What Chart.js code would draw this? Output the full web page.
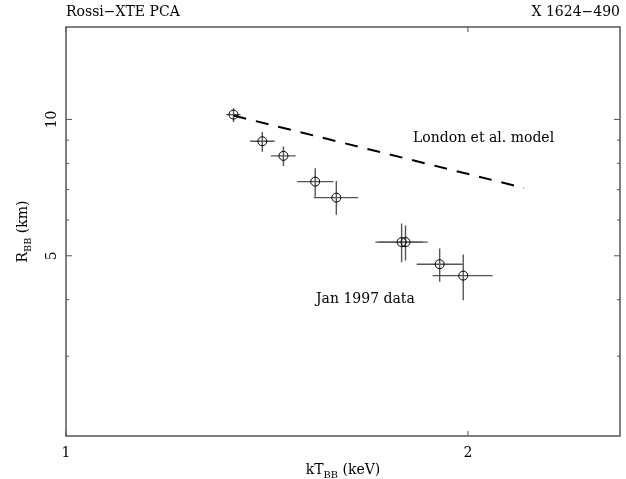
<!DOCTYPE html>
<html>
<head>
<meta charset="utf-8">
<script src="https://cdn.jsdelivr.net/npm/chart.js@4"></script>
<style>
  body { margin: 0; background: #fff; }
</style>
</head>
<body>
<canvas id="chart" width="626" height="479"></canvas>
<script>
/* data (log-log) */
let kT   = [1.335, 1.403, 1.455, 1.537, 1.594, 1.784, 1.796, 1.905, 1.984]
let kTLo = [1.318, 1.374, 1.424, 1.490, 1.533, 1.705, 1.715, 1.831, 1.882]
let kTHi = [1.351, 1.433, 1.486, 1.586, 1.655, 1.850, 1.866, 1.982, 2.087]
let radius   = [10.25, 8.95, 8.31, 7.29, 6.72, 5.36, 5.36, 4.79, 4.52]
let radiusLo = [9.87, 8.48, 7.89, 6.75, 6.16, 4.84, 4.88, 4.38, 3.99]
let radiusHi = [10.59, 9.38, 8.71, 7.80, 7.31, 5.89, 5.83, 5.19, 5.03]

// London et al. model line
let modelKT = [1.335, 2.203]
let modelR = [10.2, 7.06]

// axis ticks
let xMajor = [1, 2]
let yMajor = [5, 10]
let yMinor = [3, 4, 6, 7, 8, 9]

let serif = '"DejaVu Serif", "Liberation Serif", serif'

// draws text with a subscript part: [main, sub, rest]
function subText(ctx, parts, size) {
    let w1 = ctx.measureText(parts[0]).width
    ctx.font = (size * 0.7) + 'px ' + serif
    let w2 = ctx.measureText(parts[1]).width
    ctx.font = size + 'px ' + serif
    let w3 = ctx.measureText(parts[2]).width
    let x = -(w1 + w2 + w3) / 2
    ctx.textAlign = 'left'
    ctx.fillText(parts[0], x, 0)
    ctx.font = (size * 0.7) + 'px ' + serif
    ctx.fillText(parts[1], x + w1, size * 0.3)
    ctx.font = size + 'px ' + serif
    ctx.fillText(parts[2], x + w1 + w2, 0)
}

let decorations = {
    id: 'decorations',
    beforeDatasetsDraw(chart) {
        let ctx = chart.ctx
        let xs = chart.scales.x
        let ys = chart.scales.y
        ctx.save()
        ctx.strokeStyle = '#555'
        ctx.lineWidth = 1.4
        for (let i = 0; i < kT.length; i++) {
            let px = xs.getPixelForValue(kT[i])
            let py = ys.getPixelForValue(radius[i])
            ctx.beginPath()
            ctx.moveTo(xs.getPixelForValue(kTLo[i]), py)
            ctx.lineTo(xs.getPixelForValue(kTHi[i]), py)
            ctx.moveTo(px, ys.getPixelForValue(radiusLo[i]))
            ctx.lineTo(px, ys.getPixelForValue(radiusHi[i]))
            ctx.stroke()
        }
        ctx.restore()
    },
    afterDraw(chart) {
        let ctx = chart.ctx
        let a = chart.chartArea
        let xs = chart.scales.x
        let ys = chart.scales.y
        ctx.save()

        // frame
        ctx.strokeStyle = '#555'
        ctx.lineWidth = 1.5
        ctx.strokeRect(a.left, a.top, a.right - a.left, a.bottom - a.top)

        // ticks, pointing inward on all sides
        ctx.lineWidth = 1
        ctx.beginPath()
        xMajor.forEach(v => {
            let px = xs.getPixelForValue(v)
            ctx.moveTo(px, a.bottom); ctx.lineTo(px, a.bottom - 5)
            ctx.moveTo(px, a.top); ctx.lineTo(px, a.top + 5)
        })
        yMajor.forEach(v => {
            let py = ys.getPixelForValue(v)
            ctx.moveTo(a.left, py); ctx.lineTo(a.left + 6, py)
            ctx.moveTo(a.right, py); ctx.lineTo(a.right - 6, py)
        })
        yMinor.forEach(v => {
            let py = ys.getPixelForValue(v)
            ctx.moveTo(a.left, py); ctx.lineTo(a.left + 3, py)
            ctx.moveTo(a.right, py); ctx.lineTo(a.right - 3, py)
        })
        ctx.stroke()

        // tick labels
        ctx.fillStyle = '#000'
        ctx.font = '14px ' + serif
        ctx.textAlign = 'center'
        ctx.textBaseline = 'middle'
        xMajor.forEach(v => {
            ctx.fillText(String(v), xs.getPixelForValue(v), a.bottom + 17)
        })
        yMajor.forEach(v => {
            ctx.save()
            ctx.translate(a.left - 14, ys.getPixelForValue(v))
            ctx.rotate(-Math.PI / 2)
            ctx.fillText(String(v), 0, 0)
            ctx.restore()
        })

        // axis titles
        ctx.textBaseline = 'alphabetic'
        ctx.save()
        ctx.translate((a.left + a.right) / 2, 474)
        subText(ctx, ['kT', 'BB', ' (keV)'], 14)
        ctx.restore()
        ctx.save()
        ctx.translate(27, (a.top + a.bottom) / 2)
        ctx.rotate(-Math.PI / 2)
        subText(ctx, ['R', 'BB', ' (km)'], 14)
        ctx.restore()

        // header and annotations
        ctx.font = '14px ' + serif
        ctx.textBaseline = 'middle'
        ctx.textAlign = 'left'
        ctx.fillText('Rossi\u2212XTE PCA', a.left, 12)
        ctx.textAlign = 'right'
        ctx.fillText('X 1624\u2212490', a.right, 12)
        ctx.textAlign = 'left'
        ctx.fillText('London et al. model', 413, 138)
        ctx.fillText('Jan 1997 data', 316, 299)
        ctx.restore()
    }
}

let ctx = document.querySelector('#chart').getContext('2d')

let chart = new Chart(ctx, {
    type: 'scatter',
    data: {
        datasets: [
            {
                data: kT.map((v, i) => ({ x: v, y: radius[i] })),
                pointRadius: 4.5,
                pointBorderWidth: 1,
                pointBorderColor: '#000',
                pointBackgroundColor: 'rgba(0,0,0,0)',
                showLine: false
            },
            {
                data: modelKT.map((v, i) => ({ x: v, y: modelR[i] })),
                showLine: true,
                borderColor: '#000',
                borderWidth: 2,
                borderDash: [13, 10],
                pointRadius: 0
            }
        ]
    },
    options: {
        responsive: false,
        animation: false,
        layout: { padding: { top: 27, right: 6, left: 0, bottom: 0 } },
        plugins: { legend: { display: false }, tooltip: { enabled: false } },
        scales: {
            x: {
                type: 'logarithmic', min: 1, max: 2.6,
                ticks: { display: false }, grid: { display: false }, border: { display: false },
                afterFit(s) { s.height = 43 }
            },
            y: {
                type: 'logarithmic', min: 2, max: 16,
                ticks: { display: false }, grid: { display: false }, border: { display: false },
                afterFit(s) { s.width = 66 }
            }
        }
    },
    plugins: [decorations]
})
</script>
</body>
</html>
